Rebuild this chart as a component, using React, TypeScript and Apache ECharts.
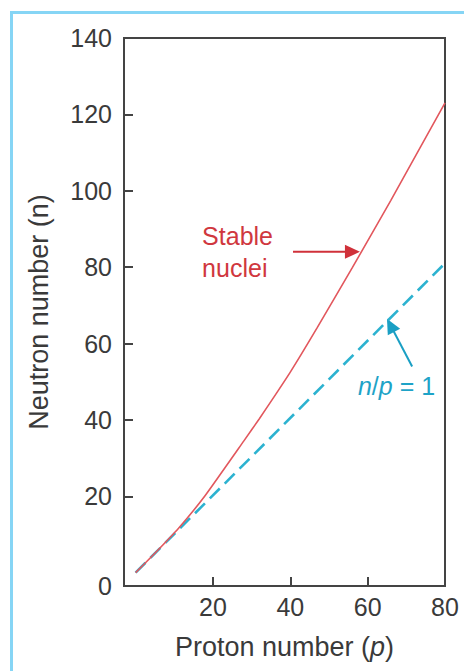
import React, { useEffect, useRef } from 'react';
import * as echarts from 'echarts';

// Stable nuclei curve (proton number p, neutron number n)
const stableProton = [0, 5, 11, 18, 28, 32, 40, 47, 56, 66, 80];
const stableNeutron = [0, 5.1, 11.5, 20.2, 34.5, 40.3, 52.5, 64.2, 79.8, 97.5, 123];
// n/p = 1 line
const equalProton = [0, 80];
const equalNeutron = [0, 81];

const xTickValues = [20, 40, 60];
const xLabelValues = [20, 40, 60, 80];
const yTickValues = [20, 40, 60, 80, 100, 120];
const yLabelValues = [20, 40, 60, 80, 100, 120, 140];

// annotations in data coordinates
const stableArrowFrom = [40.7, 84];
const stableArrowTo = [58, 84];
const equalArrowFrom = [71.5, 54];
const equalArrowTo = [65, 66.5];
const stableLabelAt = [17.2, 84];
const equalLabelAt = [57.5, 49];

const FONT = '"Liberation Sans", Arial, sans-serif';
const RED_LINE = '#e2575d';
const RED_TEXT = '#d0373e';
const BLUE_LINE = '#2cb2d0';
const BLUE_TEXT = '#1ea3c7';
const INK = '#3a3a3a';

export default function App() {
  const ref = useRef<HTMLDivElement>(null);
  useEffect(() => {
    const chart = echarts.init(ref.current!, null, { renderer: 'svg' });
    const xMin = -3;
    const yMin = -3.5;
    chart.setOption({
      animation: false,
      grid: {
        left: 124,
        top: 38,
        right: 19,
        bottom: 85,
        show: true,
        borderColor: '#444',
        borderWidth: 2,
        backgroundColor: 'transparent',
      },
      xAxis: {
        type: 'value',
        min: xMin,
        max: 80,
        axisLine: { show: false, onZero: false },
        splitLine: { show: false },
        axisTick: {
          inside: true,
          length: 9,
          customValues: xTickValues,
          lineStyle: { color: '#444', width: 2 },
        },
        axisLabel: {
          customValues: xLabelValues,
          fontSize: 25,
          color: INK,
          margin: 8,
          fontFamily: FONT,
        },
        name: 'Proton number ({i|p})',
        nameLocation: 'middle',
        nameGap: 47,
        nameTextStyle: {
          fontSize: 27,
          color: INK,
          fontFamily: FONT,
          rich: { i: { fontStyle: 'italic', fontSize: 27, color: INK, fontFamily: FONT } },
        },
      },
      yAxis: {
        type: 'value',
        min: yMin,
        max: 140,
        axisLine: { show: false, onZero: false },
        splitLine: { show: false },
        axisTick: {
          inside: true,
          length: 9,
          customValues: yTickValues,
          lineStyle: { color: '#444', width: 2 },
        },
        axisLabel: {
          customValues: [yMin, ...yLabelValues],
          formatter: (v: number) => (v < 0 ? '0' : String(v)),
          fontSize: 25,
          color: INK,
          margin: 12,
          fontFamily: FONT,
        },
        name: 'Neutron number (n)',
        nameLocation: 'middle',
        nameGap: 72,
        nameTextStyle: { fontSize: 27, color: INK, fontFamily: FONT },
      },
      series: [
        {
          type: 'line',
          name: 'Stable nuclei',
          data: stableProton.map((p, i) => [p, stableNeutron[i]]),
          smooth: 0.15,
          showSymbol: false,
          lineStyle: { color: RED_LINE, width: 1.6 },
          z: 3,
        },
        {
          type: 'line',
          name: 'n/p = 1',
          data: equalProton.map((p, i) => [p, equalNeutron[i]]),
          showSymbol: false,
          lineStyle: { color: BLUE_LINE, width: 2.6, type: [14, 7] },
          z: 2,
        },
      ],
    });

    const px = (pt: number[]) => chart.convertToPixel({ gridIndex: 0 }, pt) as number[];
    const arrow = (from: number[], to: number[], color: string, width: number) => {
      const a = px(from);
      const b = px(to);
      const dx = b[0] - a[0];
      const dy = b[1] - a[1];
      const len = Math.hypot(dx, dy);
      const ux = dx / len;
      const uy = dy / len;
      const headLen = 15;
      const half = 7;
      const bx = b[0] - ux * headLen;
      const by = b[1] - uy * headLen;
      return [
        {
          type: 'line',
          shape: { x1: a[0], y1: a[1], x2: bx + ux * 1, y2: by + uy * 1 },
          style: { stroke: color, lineWidth: width },
        },
        {
          type: 'polygon',
          shape: {
            points: [
              [b[0], b[1]],
              [bx - uy * half, by + ux * half],
              [bx + uy * half, by - ux * half],
            ],
          },
          style: { fill: color },
        },
      ];
    };
    const sl = px(stableLabelAt);
    const el = px(equalLabelAt);
    chart.setOption({
      graphic: [
        {
          type: 'rect',
          shape: { x: 11.5, y: 12.5, width: 700, height: 900 },
          style: { fill: 'none', stroke: '#86d5f5', lineWidth: 3 },
          silent: true,
        },
        ...arrow(stableArrowFrom, stableArrowTo, '#d0313a', 2),
        ...arrow(equalArrowFrom, equalArrowTo, '#1a9fc4', 2),
        {
          type: 'text',
          x: sl[0],
          y: sl[1],
          style: {
            text: 'Stable\nnuclei',
            fill: RED_TEXT,
            fontSize: 25,
            lineHeight: 32,
            fontFamily: FONT,
            align: 'left',
            verticalAlign: 'middle',
          },
        },
        {
          type: 'text',
          x: el[0],
          y: el[1],
          style: {
            text: '{i|n}/{i|p} = 1',
            fill: BLUE_TEXT,
            fontSize: 25,
            fontFamily: FONT,
            align: 'left',
            verticalAlign: 'middle',
            rich: {
              i: { fontStyle: 'italic', fontSize: 25, fill: BLUE_TEXT, fontFamily: FONT },
            },
          },
        },
      ],
    });
    return () => chart.dispose();
  }, []);
  return (
    <div
      ref={ref}
      style={{ position: 'absolute', left: 0, top: 0, width: 464, height: 671, background: '#fff' }}
    />
  );
}
